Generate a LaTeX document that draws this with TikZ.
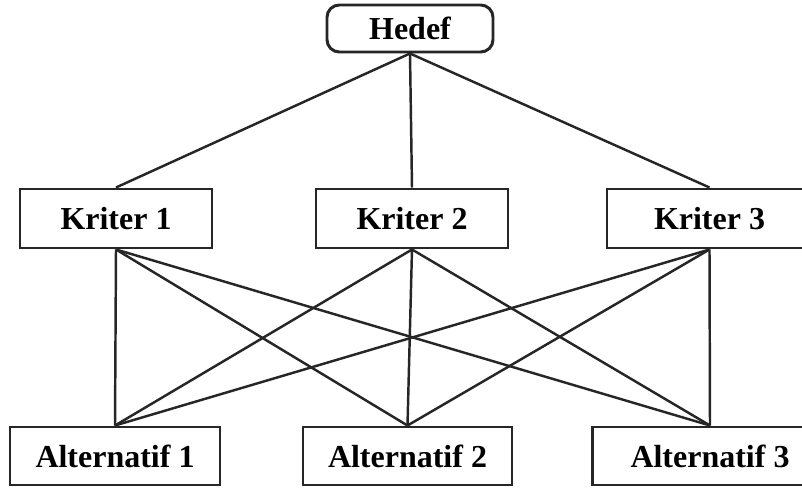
\documentclass[tikz,border=0pt]{standalone}
\usepackage{fontspec}
\setmainfont{Liberation Serif}
\usepackage{tikz}
\usetikzlibrary{positioning}
\tikzset{every picture/.style={line width=1.4pt}}
\tikzset{boxnode/.style = {shape=rectangle,draw=black!85,line width=1.7pt,inner sep=2pt,
  font=\fontsize{18.2}{20}\selectfont\bfseries}}
\tikzset{goal/.style = {boxnode,rounded corners=7pt,minimum width=3.32cm,minimum height=0.94cm}}
\tikzset{crit/.style = {boxnode,minimum width=3.84cm,minimum height=1.18cm}}
\tikzset{alt/.style = {boxnode,minimum height=1.16cm}}
\tikzset{link/.style = {draw=black!85}}

\begin{document}
\begin{tikzpicture}
\useasboundingbox (0,0) rectangle (16.04,-9.82);
\node[goal] (h) at (8.2,-0.57) {Hedef};
%
\node[crit] (k1) at (2.32,-4.37) {Kriter 1};
\node[crit] (k2) at (8.24,-4.37) {Kriter 2};
\node[crit,minimum width=4.1cm] (k3) at (14.19,-4.37) {Kriter 3};
%
\node[alt,minimum width=4.2cm] (a1) at (2.3,-9.12) {Alternatif 1};
\node[alt,minimum width=4.18cm] (a2) at (8.15,-9.12) {Alternatif 2};
\node[alt,minimum width=4.7cm] (a3) at (14.2,-9.12) {Alternatif 3};
%
\foreach \k in {k1,k2,k3} {
  \draw[link] (h.south) -- (\k.north);
  \foreach \a in {a1,a2,a3}
    \draw[link] (\k.south) -- (\a.north);
}
\end{tikzpicture}
\end{document}
